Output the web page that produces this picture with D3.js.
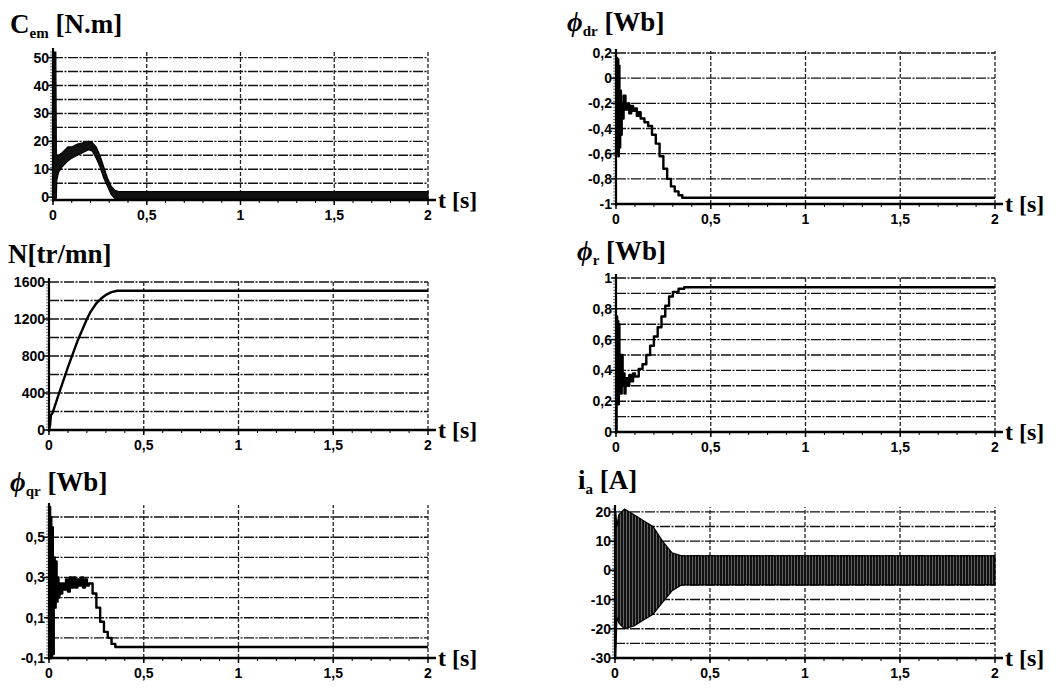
<!DOCTYPE html>
<html>
<head>
<meta charset="utf-8">
<script src="https://cdn.jsdelivr.net/npm/d3@7"></script>
<style>
  html, body { margin: 0; padding: 0; background: #fff; }
  svg { display: block; }
  .tick-label { font-family: "Liberation Sans Narrow", "Arial Narrow", "Liberation Sans", sans-serif; font-weight: bold; font-size: 14px; fill: #000; }
  .title { font-family: "Liberation Serif", "DejaVu Serif", serif; font-weight: bold; font-size: 27px; fill: #000; }
  .tlabel { font-family: "Liberation Serif", "DejaVu Serif", serif; font-weight: bold; font-size: 24px; fill: #000; }
</style>
</head>
<body>
<svg id="chart" width="1060" height="690"></svg>
<script>
// ---------------- DATA ----------------
const xTicks = [0, 0.5, 1, 1.5, 2];
const xTickLabels = ["0", "0,5", "1", "1,5", "2"];

// Electromagnetic torque Cem [N.m] : envelope (low / high) of the band
const cemTime = [0, 0.003, 0.006, 0.008, 0.015, 0.018, 0.02, 0.03, 0.05, 0.08, 0.1, 0.13, 0.16, 0.19, 0.21, 0.23, 0.25, 0.27, 0.29, 0.31, 0.33, 0.35, 0.5, 1, 1.5, 2];
const cemLow  = [0, -1, -1, -1, -1, 0, 6, 9, 11, 13, 14, 15, 16, 17, 16.5, 14, 11, 7, 4, 1, -0.5, -1, -1, -1, -1, -1];
const cemHigh = [0, 25, 25, 52, 52, 15, 15, 15, 16, 18, 18, 19, 19.5, 20, 19.5, 18, 15, 11, 7, 4, 2.5, 2, 2, 2, 2, 2];

// Rotor flux d-axis phi_dr [Wb]
const phiDrTime = [0, 0.004, 0.006, 0.009, 0.012, 0.015, 0.018, 0.022, 0.026, 0.03, 0.035, 0.04, 0.05, 0.06, 0.07, 0.08, 0.09, 0.1, 0.11, 0.12, 0.13, 0.15, 0.17, 0.19, 0.21, 0.23, 0.25, 0.27, 0.29, 0.31, 0.33, 0.35, 0.4, 2];
const phiDr     = [0, 0.16, -0.6, 0.15, -0.62, 0.1, -0.55, -0.1, -0.45, -0.2, -0.32, -0.14, -0.25, -0.2, -0.28, -0.22, -0.26, -0.24, -0.3, -0.27, -0.32, -0.35, -0.38, -0.45, -0.52, -0.62, -0.72, -0.8, -0.86, -0.9, -0.93, -0.95, -0.95, -0.95];

// Speed N [tr/mn]
const speedTime = [0, 0.005, 0.01, 0.02, 0.05, 0.1, 0.15, 0.2, 0.22, 0.25, 0.28, 0.3, 0.33, 0.36, 2];
const speed     = [0, 40, 160, 190, 380, 680, 960, 1200, 1280, 1370, 1430, 1460, 1490, 1505, 1505];

// Rotor flux magnitude phi_r [Wb]
const phiRTime = [0, 0.003, 0.006, 0.009, 0.012, 0.015, 0.018, 0.022, 0.026, 0.03, 0.035, 0.04, 0.045, 0.05, 0.06, 0.07, 0.08, 0.09, 0.1, 0.12, 0.14, 0.16, 0.18, 0.2, 0.22, 0.24, 0.26, 0.28, 0.3, 0.33, 0.36, 2];
const phiR     = [0, 0.75, 0.2, 0.72, 0.18, 0.7, 0.3, 0.5, 0.25, 0.5, 0.3, 0.38, 0.25, 0.35, 0.3, 0.37, 0.33, 0.38, 0.36, 0.41, 0.44, 0.5, 0.56, 0.62, 0.68, 0.75, 0.82, 0.88, 0.91, 0.93, 0.94, 0.94];

// Rotor flux q-axis phi_qr [Wb]
const phiQrTime = [0, 0.003, 0.006, 0.009, 0.012, 0.016, 0.02, 0.025, 0.03, 0.035, 0.04, 0.045, 0.05, 0.055, 0.06, 0.07, 0.08, 0.09, 0.1, 0.11, 0.12, 0.13, 0.14, 0.15, 0.16, 0.17, 0.18, 0.19, 0.2, 0.21, 0.23, 0.25, 0.27, 0.29, 0.31, 0.33, 0.35, 2];
const phiQr     = [0, 0.65, -0.1, 0.6, -0.1, 0.55, -0.08, 0.4, 0.15, 0.38, 0.18, 0.3, 0.2, 0.27, 0.22, 0.27, 0.24, 0.29, 0.23, 0.3, 0.25, 0.3, 0.25, 0.29, 0.26, 0.3, 0.25, 0.29, 0.26, 0.27, 0.22, 0.15, 0.08, 0.03, 0.0, -0.03, -0.045, -0.045];

// Stator current i_a [A] : envelope of the oscillation
const iaTime = [0, 0.004, 0.01, 0.02, 0.05, 0.1, 0.15, 0.2, 0.25, 0.3, 0.35, 0.5, 1, 1.5, 2];
const iaLow  = [0, -30, -16, -18, -20, -19, -17, -15, -11, -7, -5, -5, -5, -5, -5];
const iaHigh = [0, 20, 15, 19, 21, 19, 17, 15, 10, 6, 5, 5, 5, 5, 5];

// Y tick values / labels
const cemGrid = [5, 10, 15, 20, 25, 30, 35, 40, 45, 50];
const cemTicks = [0, 10, 20, 30, 40, 50];
const cemLabels = ["0", "10", "20", "30", "40", "50"];

const phiDrGrid = [-0.8, -0.6, -0.4, -0.2, 0, 0.2];
const phiDrTicks = [-1, -0.8, -0.6, -0.4, -0.2, 0, 0.2];
const phiDrLabels = ["-1", "-0,8", "-0,6", "-0,4", "-0,2", "0", "0,2"];

const speedGrid = [200, 400, 600, 800, 1000, 1200, 1400, 1600];
const speedTicks = [0, 400, 800, 1200, 1600];
const speedLabels = ["0", "400", "800", "1200", "1600"];

const phiRGrid = [0.1, 0.2, 0.3, 0.4, 0.5, 0.6, 0.7, 0.8, 0.9, 1];
const phiRTicks = [0, 0.2, 0.4, 0.6, 0.8, 1];
const phiRLabels = ["0", "0,2", "0,4", "0,6", "0,8", "1"];

const phiQrGrid = [0, 0.1, 0.2, 0.3, 0.4, 0.5, 0.6];
const phiQrTicks = [-0.1, 0.1, 0.3, 0.5];
const phiQrLabels = ["-0,1", "0,1", "0,3", "0,5"];

const iaGrid = [-25, -20, -15, -10, -5, 0, 5, 10, 15, 20];
const iaTicks = [-30, -20, -10, 0, 10, 20];
const iaLabels = ["-30", "-20", "-10", "0", "10", "20"];

// ---------------- DRAWING ----------------
const svg = d3.select("#chart");
svg.append("rect").attr("width", 1060).attr("height", 690).attr("fill", "#fff");

const defs = svg.append("defs");
const pat = defs.append("pattern").attr("id", "stripes").attr("patternUnits", "userSpaceOnUse")
  .attr("width", 3).attr("height", 6);
pat.append("rect").attr("width", 3).attr("height", 6).attr("fill", "#111");
pat.append("rect").attr("x", 2).attr("width", 0.8).attr("height", 6).attr("fill", "#777");

function drawPanel(cfg) {
  const g = svg.append("g");
  const x = d3.scaleLinear().domain([0, 2]).range([cfg.x0, cfg.x1]);
  const y = d3.scaleLinear().domain(cfg.yDomain).range([cfg.yBottom, cfg.yTop]);

  // horizontal grid
  g.selectAll(".hg").data(cfg.grid).join("line")
    .attr("x1", cfg.x0).attr("x2", cfg.x1)
    .attr("y1", d => y(d)).attr("y2", d => y(d))
    .attr("stroke", "#111").attr("stroke-width", 1.4).attr("stroke-dasharray", "10,1.5,2,1.5");
  // vertical grid
  g.selectAll(".vg").data(xTicks.slice(1)).join("line")
    .attr("x1", d => x(d)).attr("x2", d => x(d))
    .attr("y1", cfg.yBottom).attr("y2", cfg.yTop - 2)
    .attr("stroke", "#222").attr("stroke-width", 1.3).attr("stroke-dasharray", "4,2");

  // minor ticks on x axis
  const minor = d3.range(1, 20).map(i => i / 10);
  g.selectAll(".mx").data(minor).join("line")
    .attr("x1", d => x(d)).attr("x2", d => x(d))
    .attr("y1", cfg.yBottom).attr("y2", cfg.yBottom + 3)
    .attr("stroke", "#000").attr("stroke-width", 1);
  // minor ticks on y axis
  const yMinor = d3.range(0, 51).map(i => cfg.yDomain[0] + (cfg.yDomain[1] - cfg.yDomain[0]) * i / 50);
  g.selectAll(".my").data(yMinor).join("line")
    .attr("x1", cfg.x0 - 3).attr("x2", cfg.x0)
    .attr("y1", d => y(d)).attr("y2", d => y(d))
    .attr("stroke", "#555").attr("stroke-width", 0.8);

  // data
  if (cfg.low) {
    const pts = cfg.time.map((t, i) => ({ t, lo: cfg.low[i], hi: cfg.high[i] }));
    g.append("path").datum(pts)
      .attr("d", d3.area().x(d => x(d.t)).y0(d => y(d.lo)).y1(d => y(d.hi)))
      .attr("fill", cfg.fill).attr("stroke", "#000").attr("stroke-width", 1.2);
  } else {
    const pts = cfg.time.map((t, i) => ({ t, v: cfg.values[i] }));
    g.append("path").datum(pts)
      .attr("d", d3.line().curve(cfg.step ? d3.curveStepAfter : d3.curveLinear).x(d => x(d.t)).y(d => y(d.v)))
      .attr("fill", "none").attr("stroke", "#000").attr("stroke-width", 2.4)
      .attr("stroke-linejoin", "round");
  }

  // axes
  g.append("line").attr("x1", cfg.x0).attr("x2", cfg.x1 + 8)
    .attr("y1", cfg.yBottom).attr("y2", cfg.yBottom)
    .attr("stroke", "#000").attr("stroke-width", 2.5);
  g.append("line").attr("x1", cfg.x0).attr("x2", cfg.x0)
    .attr("y1", cfg.yBottom + 2).attr("y2", cfg.yTop - 4)
    .attr("stroke", "#000").attr("stroke-width", 2.2);

  // major ticks
  g.selectAll(".xt").data(xTicks).join("line")
    .attr("x1", d => x(d)).attr("x2", d => x(d))
    .attr("y1", cfg.yBottom).attr("y2", cfg.yBottom + 5)
    .attr("stroke", "#000").attr("stroke-width", 1.5);
  g.selectAll(".yt").data(cfg.ticks).join("line")
    .attr("x1", cfg.x0 - 5).attr("x2", cfg.x0)
    .attr("y1", d => y(d)).attr("y2", d => y(d))
    .attr("stroke", "#000").attr("stroke-width", 1.5);

  // labels
  g.selectAll(".xl").data(xTicks).join("text").attr("class", "tick-label")
    .attr("x", d => x(d)).attr("y", cfg.yBottom + 20)
    .attr("text-anchor", "middle")
    .text((d, i) => xTickLabels[i]);
  g.selectAll(".yl").data(cfg.ticks).join("text").attr("class", "tick-label")
    .attr("x", cfg.x0 - 4).attr("y", d => y(d) + 5)
    .attr("text-anchor", "end")
    .text((d, i) => cfg.labels[i]);

  // t [s]
  g.append("text").attr("class", "tlabel")
    .attr("x", cfg.x1 + 10).attr("y", cfg.yBottom + 8).text("t [s]");

  // title
  const title = g.append("text").attr("class", "title").attr("x", cfg.titleX).attr("y", cfg.titleY);
  cfg.title.forEach(part => {
    const ts = title.append("tspan").text(part.t);
    if (part.sub) ts.attr("font-size", 15).attr("dy", 5);
    if (part.up) ts.attr("dy", -5);
    if (part.italic) ts.attr("font-style", "italic");
  });
}

drawPanel({
  x0: 53, x1: 428, yDomain: [-1, 52], yBottom: 200, yTop: 52,
  grid: cemGrid, ticks: cemTicks, labels: cemLabels,
  time: cemTime, low: cemLow, high: cemHigh, fill: "#111",
  titleX: 10, titleY: 33,
  title: [{ t: "C" }, { t: "em", sub: true }, { t: " [N.m]", up: true }]
});

drawPanel({
  x0: 616, x1: 995, yDomain: [-1, 0.2], yBottom: 204, yTop: 53,
  grid: phiDrGrid, ticks: phiDrTicks, labels: phiDrLabels,
  time: phiDrTime, values: phiDr, step: true,
  titleX: 567, titleY: 31,
  title: [{ t: "ϕ", italic: true }, { t: "dr", sub: true }, { t: "  [Wb]", up: true }]
});

drawPanel({
  x0: 49, x1: 428, yDomain: [0, 1600], yBottom: 430, yTop: 282,
  grid: speedGrid, ticks: speedTicks, labels: speedLabels,
  time: speedTime, values: speed,
  titleX: 8, titleY: 263,
  title: [{ t: "N[tr/mn]" }]
});

drawPanel({
  x0: 616, x1: 995, yDomain: [0, 1], yBottom: 432, yTop: 278,
  grid: phiRGrid, ticks: phiRTicks, labels: phiRLabels,
  time: phiRTime, values: phiR, step: true,
  titleX: 577, titleY: 260,
  title: [{ t: "ϕ", italic: true }, { t: "r", sub: true }, { t: " [Wb]", up: true }]
});

drawPanel({
  x0: 49, x1: 428, yDomain: [-0.1, 0.65], yBottom: 658, yTop: 507,
  grid: phiQrGrid, ticks: phiQrTicks, labels: phiQrLabels,
  time: phiQrTime, values: phiQr, step: true,
  titleX: 10, titleY: 491,
  title: [{ t: "ϕ", italic: true }, { t: "qr", sub: true }, { t: "  [Wb]", up: true }]
});

drawPanel({
  x0: 615, x1: 995, yDomain: [-30, 21], yBottom: 658, yTop: 509,
  grid: iaGrid, ticks: iaTicks, labels: iaLabels,
  time: iaTime, low: iaLow, high: iaHigh, fill: "url(#stripes)",
  titleX: 578, titleY: 489,
  title: [{ t: "i" }, { t: "a", sub: true }, { t: " [A]", up: true }]
});
</script>
</body>
</html>
